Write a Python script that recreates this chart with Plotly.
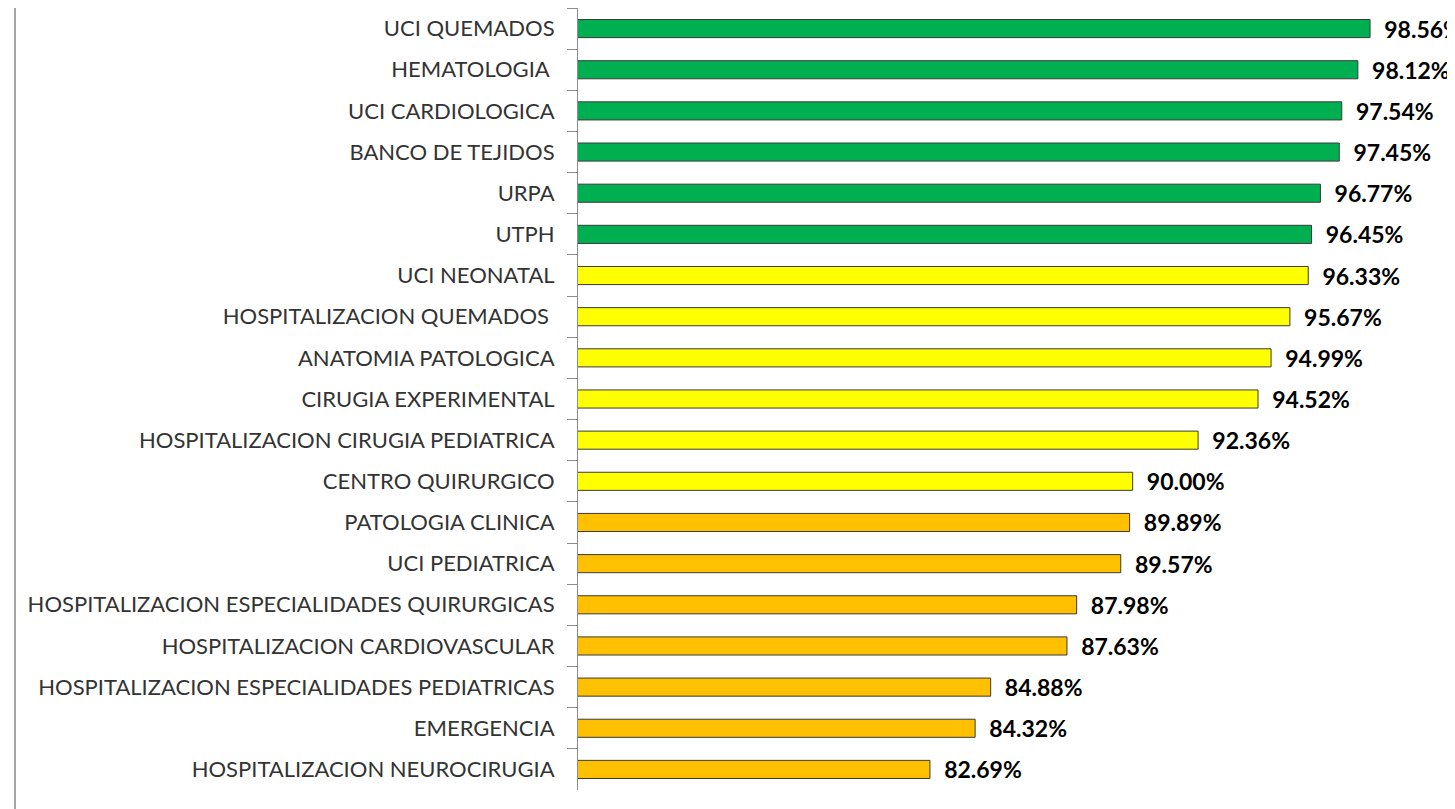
import plotly.graph_objects as go

# Servicios (de arriba hacia abajo) y porcentaje de cumplimiento
servicios = [
    'UCI QUEMADOS', 'HEMATOLOGIA ', 'UCI CARDIOLOGICA', 'BANCO DE TEJIDOS',
    'URPA', 'UTPH', 'UCI NEONATAL', 'HOSPITALIZACION QUEMADOS ',
    'ANATOMIA PATOLOGICA', 'CIRUGIA EXPERIMENTAL',
    'HOSPITALIZACION CIRUGIA PEDIATRICA', 'CENTRO QUIRURGICO',
    'PATOLOGIA CLINICA', 'UCI PEDIATRICA',
    'HOSPITALIZACION ESPECIALIDADES QUIRURGICAS',
    'HOSPITALIZACION CARDIOVASCULAR',
    'HOSPITALIZACION ESPECIALIDADES PEDIATRICAS', 'EMERGENCIA',
    'HOSPITALIZACION NEUROCIRUGIA'
]
porcentajes = [98.56, 98.12, 97.54, 97.45, 96.77, 96.45, 96.33, 95.67, 94.99,
               94.52, 92.36, 90.00, 89.89, 89.57, 87.98, 87.63, 84.88, 84.32,
               82.69]
niveles = ['verde'] * 6 + ['amarillo'] * 6 + ['naranja'] * 7

colores = {'verde': '#00B050', 'amarillo': '#FFFF00', 'naranja': '#FFC000'}

fig = go.Figure()

fig.add_trace(go.Bar(
    y=servicios,
    x=porcentajes,
    orientation='h',
    width=0.44,
    marker=dict(color=[colores[n] for n in niveles],
                line=dict(color='#3a3a3a', width=1)),
    text=['\u00a0\u00a0%.2f%%' % v for v in porcentajes],
    textposition='outside',
    constraintext='none',
    cliponaxis=False,
    textfont=dict(family='Lato', size=23, color='black', weight='bold'),
    hoverinfo='skip',
))

# la pagina tiene 8px de margen en el body
L, R = 570, 1402
fig.update_layout(
    width=1455, height=809,
    margin=dict(l=L, r=1455 - R, t=0, b=27),
    plot_bgcolor='white', paper_bgcolor='white',
    showlegend=False,
    xaxis=dict(range=[70, 100], visible=False, fixedrange=True),
    yaxis=dict(
        autorange='reversed',
        showline=True, linecolor='#8c8c8c', linewidth=1,
        ticks='outside', tickson='boundaries', ticklen=10, tickcolor='#8c8c8c',
        ticklabelstandoff=18,
        tickfont=dict(family='Lato', size=22, color='#333333'),
        showgrid=False,
    ),
    shapes=[dict(type='line', xref='paper', yref='paper',
                 x0=(7 - L) / (R - L), x1=(7 - L) / (R - L),
                 y0=-0.04, y1=1.0,
                 line=dict(color='#a6a6a6', width=2))],
)

fig.write_html('out.html')
